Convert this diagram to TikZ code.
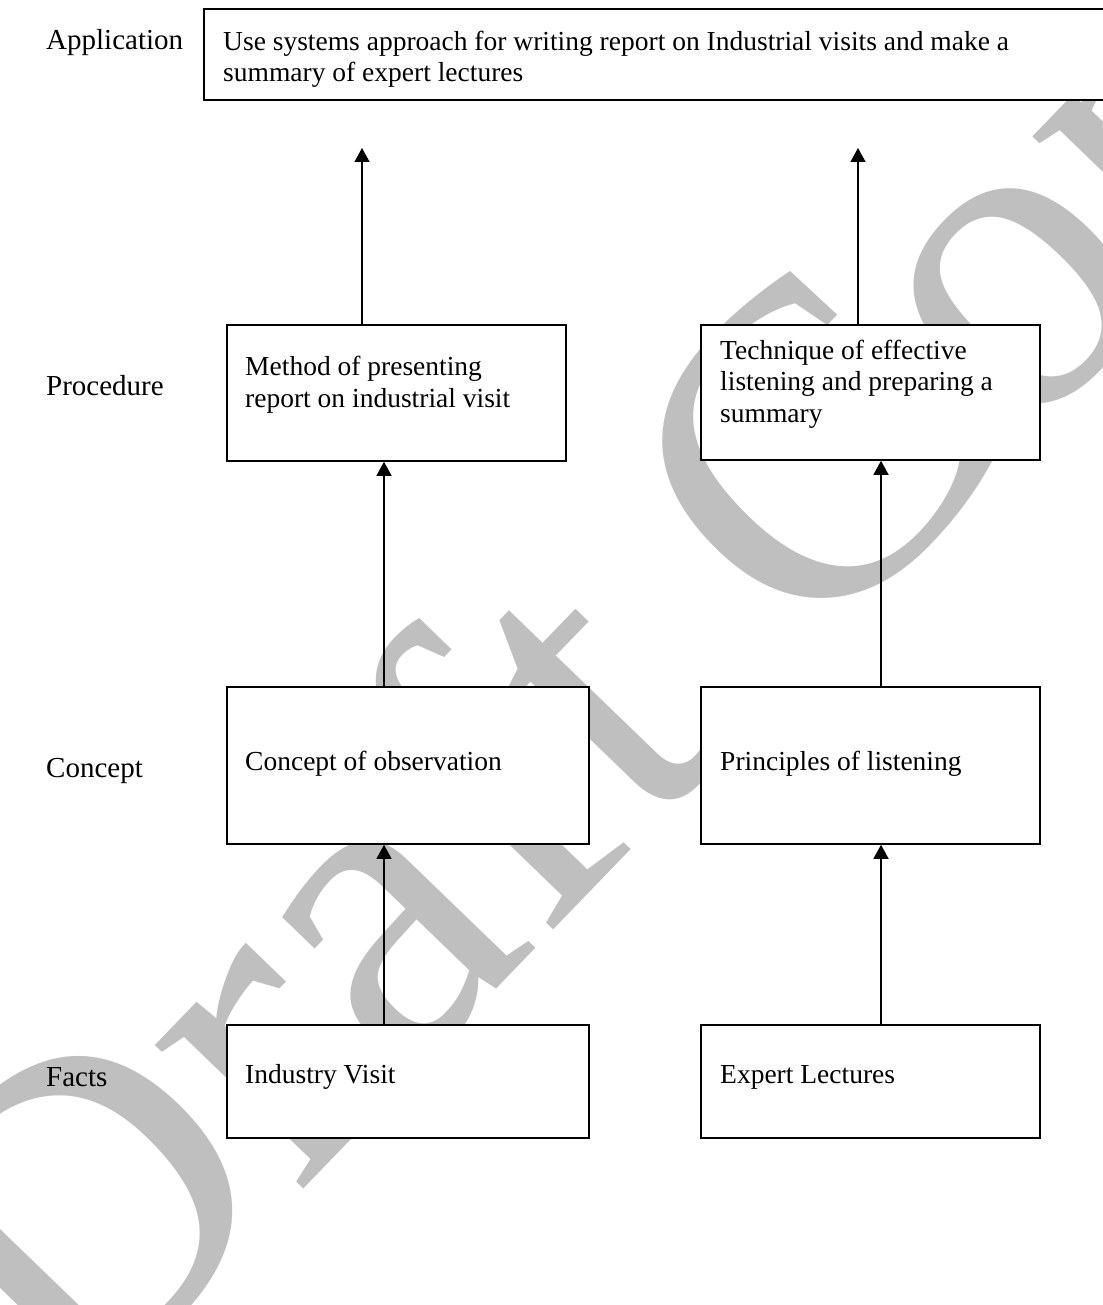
\documentclass[tikz,border=0pt]{standalone}
\usepackage{fontspec}
\setmainfont{Liberation Serif}
\usetikzlibrary{arrows.meta}
\begin{document}
\begin{tikzpicture}[x=1pt,y=-1pt,
  box/.style={draw, line width=1.8pt, fill=white, inner sep=0pt, anchor=north west},
  txt/.style={anchor=base west, inner sep=0pt, align=left, font=\fontsize{27.5}{31.5}\selectfont},
  lbl/.style={anchor=base west, inner sep=0pt, font=\fontsize{29}{33}\selectfont},
  arr/.style={line width=1.4pt, -{Triangle[width=15pt,length=14pt]}}]
\useasboundingbox (0,0) rectangle (1102,1305);
\fill[white] (0,0) rectangle (1102,1305);
% watermark
\node[anchor=base west, inner sep=0pt, rotate=46, text=black!25,
  font=\fontsize{450}{450}\selectfont] (wm) at (72,1429) {Draft Copy};
% row labels
\node[lbl] (lapp) at (46,50) {Application};
\node[lbl] (lproc) at (46,395) {Procedure};
\node[lbl] (lconc) at (46,777) {Concept};
\node[lbl] (lfact) at (46,1086) {Facts};
% boxes
\node[box, minimum width=910pt, minimum height=91pt] (app) at (203,8) {};
\node[box, minimum width=339pt, minimum height=136pt] (p1) at (226,324) {};
\node[box, minimum width=339pt, minimum height=135pt] (p2) at (700,324) {};
\node[box, minimum width=362pt, minimum height=157pt] (c1) at (226,686) {};
\node[box, minimum width=339pt, minimum height=157pt] (c2) at (700,686) {};
\node[box, minimum width=362pt, minimum height=113pt] (f1) at (226,1024) {};
\node[box, minimum width=339pt, minimum height=113pt] (f2) at (700,1024) {};
% texts (base anchor = baseline of the last line)
\node[txt] (tapp) at (223,82) {Use systems approach for writing report on Industrial visits and make a\\summary of expert lectures};
\node[txt] (tp1) at (245,407) {Method of presenting\\report on industrial visit};
\node[txt] (tp2) at (720,422) {Technique of effective\\listening and preparing a\\summary};
\node[txt] (tc1) at (245,770) {Concept of observation};
\node[txt] (tc2) at (720,770) {Principles of listening};
\node[txt] (tf1) at (245,1083) {Industry Visit};
\node[txt] (tf2) at (720,1083) {Expert Lectures};
% connector columns
\coordinate (t1) at (362,148);
\coordinate (t2) at (858,148);
\coordinate (xl) at (384,0);
\coordinate (xr) at (881,0);
% arrows
\draw[arr] (t1 |- p1.north) -- (t1);
\draw[arr] (t2 |- p2.north) -- (t2);
\draw[arr] (xl |- c1.north) -- (xl |- p1.south);
\draw[arr] (xr |- c2.north) -- (xr |- p2.south);
\draw[arr] (xl |- f1.north) -- (xl |- c1.south);
\draw[arr] (xr |- f2.north) -- (xr |- c2.south);
\end{tikzpicture}
\end{document}
